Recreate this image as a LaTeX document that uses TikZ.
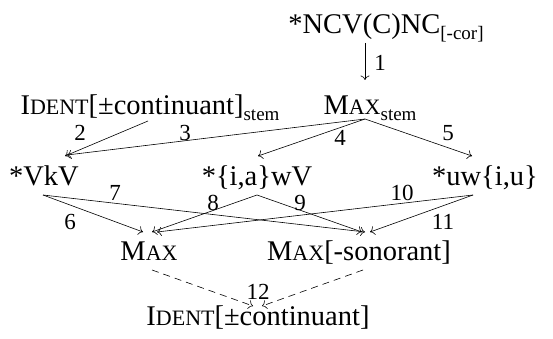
\documentclass[tikz,border=0pt]{standalone}
\usepackage{fontspec}
\setmainfont{Liberation Serif}
\usetikzlibrary{calc,arrows.meta}
\newcommand\smc[1]{{\fontsize{22}{22}\selectfont #1}}
\newcommand\sbs[1]{\raisebox{-6pt}{\fontsize{19}{19}\selectfont #1}}
\begin{document}
\begin{tikzpicture}[x=1pt,y=-1pt,
  every node/.style={font=\fontsize{28.5}{29}\selectfont, inner sep=0pt},
  lbl/.style={font=\fontsize{23}{23}\selectfont},
  arr/.style={-{To[length=4.5pt,width=9pt]}, line width=0.6pt},
  darr/.style={arr, dash pattern=on 7pt off 5pt}]
\useasboundingbox (0,0) rectangle (553,339);
\node[anchor=base] (ncv) at (386,34) {*NCV(C)NC\sbs{[-cor]}};
\node[anchor=base] (identstem) at (150,115) {I\smc{DENT}[±continuant]\sbs{stem}};
\node[anchor=base] (maxstem) at (370,115) {M\smc{AX}\sbs{stem}};
\node[anchor=base] (vkv) at (44,185) {*VkV};
\node[anchor=base] (iaw) at (257,185) {*\{i,a\}wV};
\node[anchor=base] (uwiu) at (485,185) {*uw\{i,u\}};
\node[anchor=base] (max) at (149,260) {M\smc{AX}};
\node[anchor=base] (maxson) at (359,260) {M\smc{AX}[-sonorant]};
\node[anchor=base] (ident) at (258,325) {I\smc{DENT}[±continuant]};

\draw[arr] ($(ncv.base)+(-21,9)$) -- ($(maxstem.base)+(-5,-35)$);
\draw[arr] ($(identstem.base)+(-2,6)$) -- ($(vkv.base)+(21,-29)$);
\draw[arr] ($(maxstem.base)+(-5,4)$) -- ($(vkv.base)+(23,-30)$);
\draw[arr] ($(maxstem.base)+(-5,4)$) -- ($(iaw.base)+(1,-29)$);
\draw[arr] ($(maxstem.base)+(-5,4)$) -- ($(uwiu.base)+(-13,-29)$);
\draw[arr] ($(vkv.base)+(-1,10)$) -- ($(max.base)+(-6,-28)$);
\draw[arr] ($(vkv.base)+(-1,10)$) -- ($(maxson.base)+(6,-28)$);
\draw[arr] ($(iaw.base)+(0,10)$) -- ($(max.base)+(3,-28)$);
\draw[arr] ($(iaw.base)+(0,10)$) -- ($(maxson.base)+(3,-28)$);
\draw[arr] ($(uwiu.base)+(-12,10)$) -- ($(max.base)+(8,-28)$);
\draw[arr] ($(uwiu.base)+(-12,10)$) -- ($(maxson.base)+(11,-28)$);
\draw[darr] ($(max.base)+(3,10)$) -- ($(ident.base)+(-5,-19)$);
\draw[darr] ($(maxson.base)+(4,10)$) -- ($(ident.base)+(4,-19)$);

\node[lbl] (l1) at (380,63) {1};
\node[lbl] (l2) at (80,133) {2};
\node[lbl] (l3) at (185,133) {3};
\node[lbl] (l4) at (340,138) {4};
\node[lbl] (l5) at (448,133) {5};
\node[lbl] (l6) at (70,222) {6};
\node[lbl] (l7) at (115,193) {7};
\node[lbl] (l8) at (213,203) {8};
\node[lbl] (l9) at (300,203) {9};
\node[lbl] (l10) at (402,193) {10};
\node[lbl] (l11) at (443,222) {11};
\node[lbl] (l12) at (258,292) {12};
\end{tikzpicture}
\end{document}
